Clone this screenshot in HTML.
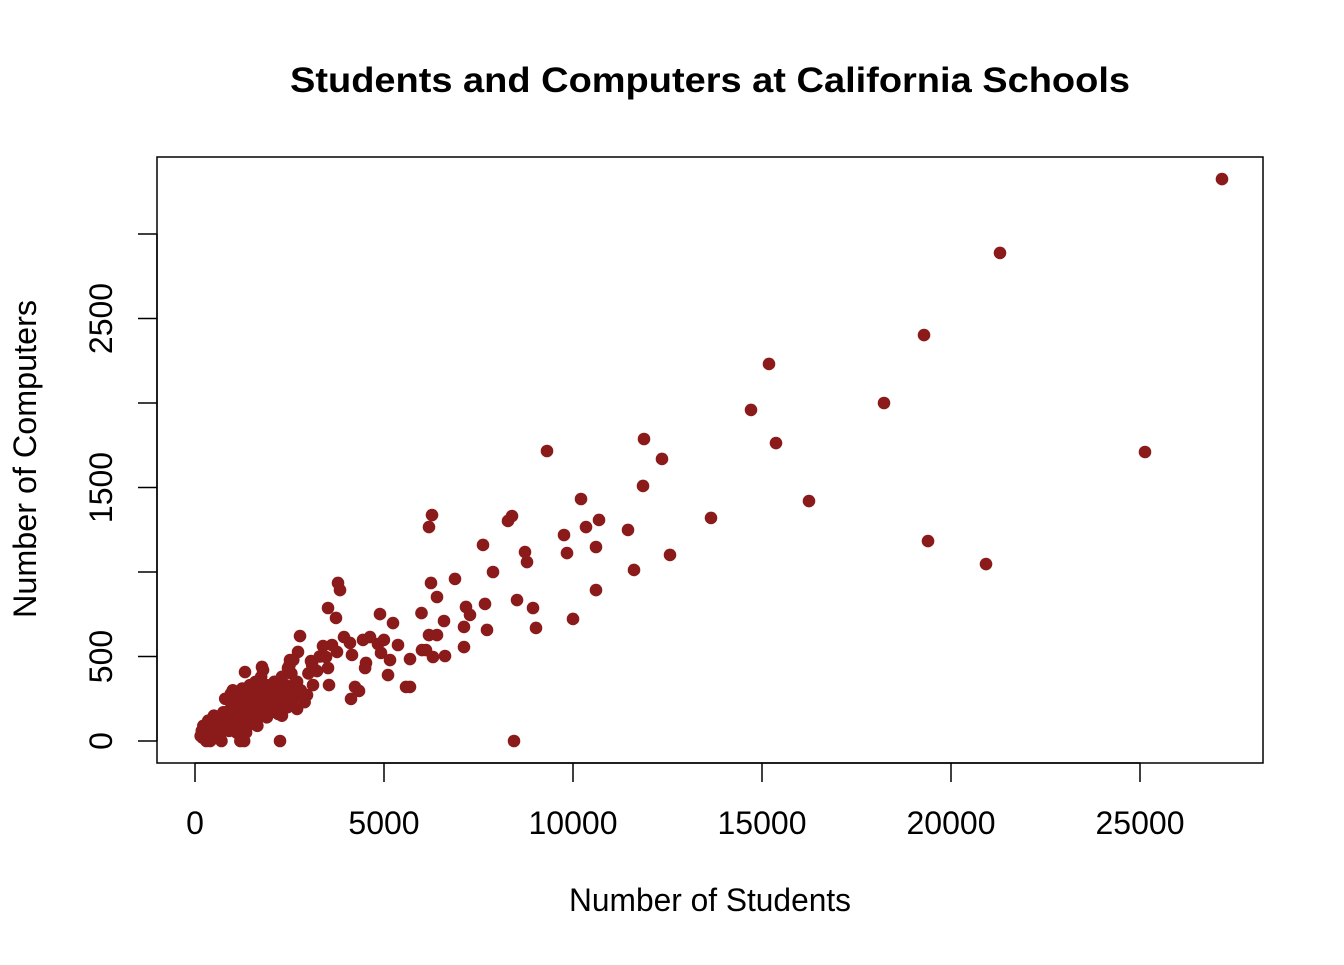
<!DOCTYPE html>
<html><head><meta charset="utf-8"><style>
html,body{margin:0;padding:0;background:#fff;}
svg text{font-family:"Liberation Sans",Arial,sans-serif;fill:#000;}
</style></head><body>
<svg id="chart" width="1344" height="960" xmlns="http://www.w3.org/2000/svg">
<text x="710" y="92" text-anchor="middle" font-size="35" font-weight="bold" textLength="840" lengthAdjust="spacingAndGlyphs">Students and Computers at California Schools</text>
<rect x="157" y="157" width="1106" height="606" fill="none" stroke="#000" stroke-width="1.5"/>
<text x="710" y="911" text-anchor="middle" font-size="32" textLength="282" lengthAdjust="spacingAndGlyphs">Number of Students</text>
<text transform="translate(36,459) rotate(-90)" text-anchor="middle" font-size="32" textLength="318" lengthAdjust="spacingAndGlyphs">Number of Computers</text>
<g id="xaxis"></g>
<g id="yaxis"></g>
<g id="points"></g>
</svg>
<script>
const xTicks=[0,5000,10000,15000,20000,25000];
const xTickLabels=["0","5000","10000","15000","20000","25000"];
const yTicks=[0,500,1000,1500,2000,2500,3000];
const yTickLabels=["0","500","","1500","","2500",""];
const students=[27169,21296,19286,15185,14709,18228,15370,25132,16243,19392,20926,13651,11878,12354,11852,9312,10212,10688,10344,11455,9762,10608,9841,12566,11614,10608,10000,9021,8942,8519,8439,8386,8280,7619,8730,8783,7884,7672,7725,6878,7169,7275,7116,7116,6270,6190,6243,6402,6587,5992,6190,6402,6111,6614,6296,6005,5688,5582,5688,5370,5238,4894,4997,4921,5159,5106,4524,4500,4630,4444,4841,3783,3836,3519,3730,3942,4100,3624,3757,4153,4233,4339,4127,3386,3466,3519,3545,2778,2725,3069,3228,3122,2963,2513,2460,1772,1323,2249,
200,250,300,350,400,450,500,550,600,650,700,750,800,850,900,950,1000,1050,1100,1150,1200,1250,1300,1350,1400,1450,1500,1550,1600,1650,1700,1750,1800,1850,1900,1950,2000,2050,2100,2150,2200,2250,2300,2350,2400,2450,2500,2550,2600,2650,2700,2800,2900,1000,900,700,400,300,1200,1300,600,1100,500,800,1500,1700,2000,2200,1400,1600,1800,2500,2600,1200,150,180,220,350,450,650,750,950,1050,1250,1350,1450,1550,1650,1750,1900,2100,2300,2400,2700,2850,3000,3100,3300];
const computers=[3325,2888,2402,2231,1959,2000,1763,1710,1420,1183,1047,1320,1787,1669,1509,1716,1432,1308,1266,1249,1219,1148,1112,1101,1012,893,722,669,787,834,0,1331,1302,1160,1118,1059,1000,811,657,959,793,746,675,556,1337,1266,935,852,710,757,627,627,538,503,497,538,485,320,320,568,698,751,598,521,479,390,462,432,615,598,574,935,893,787,728,615,580,568,527,509,320,296,249,562,497,432,331,621,527,473,414,331,272,479,432,438,408,0,
20,40,10,60,30,80,50,100,70,120,90,60,150,110,180,130,200,160,230,120,250,180,220,150,270,200,240,300,190,260,310,230,280,200,330,260,300,230,350,280,220,310,380,260,330,200,290,400,250,340,190,300,230,300,60,0,0,0,0,0,20,50,150,250,120,140,170,160,90,350,420,450,480,100,30,60,90,120,10,30,170,280,90,310,50,330,180,90,380,140,200,150,250,350,280,400,450,500];
const NS="http://www.w3.org/2000/svg";
const xs=v=>195+v*0.0378;
const ys=v=>741-v*0.169;
const xa=document.getElementById('xaxis'),ya=document.getElementById('yaxis'),pg=document.getElementById('points');
function mk(t,a){const e=document.createElementNS(NS,t);for(const k in a)e.setAttribute(k,a[k]);return e;}
let l=mk('line',{x1:xs(xTicks[0]),x2:xs(xTicks[xTicks.length-1]),y1:763,y2:763,stroke:'#000','stroke-width':1.5});


xa.appendChild(l);
xTicks.forEach((v,i)=>{
 const t=mk('line',{x1:xs(v),x2:xs(v),y1:763,y2:782,stroke:'#000','stroke-width':1.5});
 
 
 xa.appendChild(t);
 const tx=mk('text',{x:xs(v),y:834,'text-anchor':'middle','font-size':32});
 tx.textContent=xTickLabels[i];
 
 
 xa.appendChild(tx);
});
let l2=mk('line',{x1:157,x2:157,y1:ys(yTicks[0]),y2:ys(yTicks[yTicks.length-1]),stroke:'#000','stroke-width':1.5});


ya.appendChild(l2);
yTicks.forEach((v,i)=>{
 const t=mk('line',{x1:138,x2:157,y1:ys(v),y2:ys(v),stroke:'#000','stroke-width':1.5});
 
 
 ya.appendChild(t);
 if(yTickLabels[i]){
 const tx=mk('text',{transform:`translate(112,${ys(v)}) rotate(-90)`,'text-anchor':'middle','font-size':32});
 tx.textContent=yTickLabels[i];
 
 
 ya.appendChild(tx);}
});
students.forEach((s,i)=>{
 const c=mk('circle',{cx:xs(s),cy:ys(computers[i]),r:6.3,fill:'#8B1A1A'});
 
 
 pg.appendChild(c);
});
</script>
</body></html>
